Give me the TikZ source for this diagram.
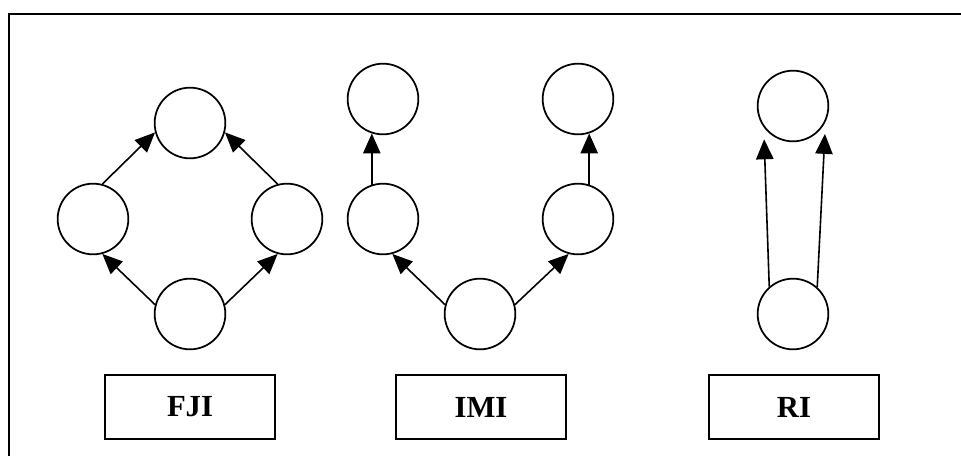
\documentclass[tikz,border=0pt]{standalone}
\usepackage{fontspec}
\setmainfont{Liberation Serif}
\usetikzlibrary{arrows.meta}

\begin{document}
\begin{tikzpicture}[x=0.75pt,y=-0.75pt]
	\tikzset{
		state/.style={circle,draw,line width=1.3pt,minimum size=53pt,inner sep=0pt},
		arr/.style={-{Triangle[length=15pt,width=13pt]},line width=1.2pt},
		namebox/.style={draw,line width=1.5pt,minimum width=127pt,minimum height=47.5pt,
			font=\bfseries\fontsize{23}{27}\selectfont}
	}
	\useasboundingbox (0,0) rectangle (961,455);
	\clip (0,0) rectangle (961,455);
	\draw[line width=1.7pt] (9,14) rectangle (990,490);

	% FJI
	\node[state] (fjiTop) at (190,123) {};
	\node[state] (fjiLeft) at (93,219) {};
	\node[state] (fjiRight) at (287,219) {};
	\node[state] (fjiBot) at (190,314) {};
	\draw[arr] (fjiBot.165) -- (fjiLeft.285);
	\draw[arr] (fjiBot.15) -- (fjiRight.255);
	\draw[arr] (fjiLeft.75) -- (fjiTop.195);
	\draw[arr] (fjiRight.105) -- (fjiTop.345);
	\node[namebox] (fji) at (190,407) {FJI};

	% IMI
	\node[state] (imiTopL) at (383,99) {};
	\node[state] (imiTopR) at (578,99) {};
	\node[state] (imiMidL) at (383,219) {};
	\node[state] (imiMidR) at (578,219) {};
	\node[state] (imiBot) at (480,314) {};
	\draw[arr] (imiBot.165) -- (imiMidL.285);
	\draw[arr] (imiBot.15) -- (imiMidR.255);
	\draw[arr] (imiMidL.108) -- (imiTopL.252);
	\draw[arr] (imiMidR.72) -- (imiTopR.288);
	\node[namebox] (imi) at (481,407) {IMI};

	% RI
	\node[state] (riTop) at (793,106) {};
	\node[state] (riBot) at (793,314) {};
	\draw[arr,shorten >=9pt] (riBot.131) -- (riTop.216);
	\draw[arr,shorten >=9pt] (riBot.48) -- (riTop.334);
	\node[namebox] (ri) at (794,407) {RI};
\end{tikzpicture}
\end{document}
